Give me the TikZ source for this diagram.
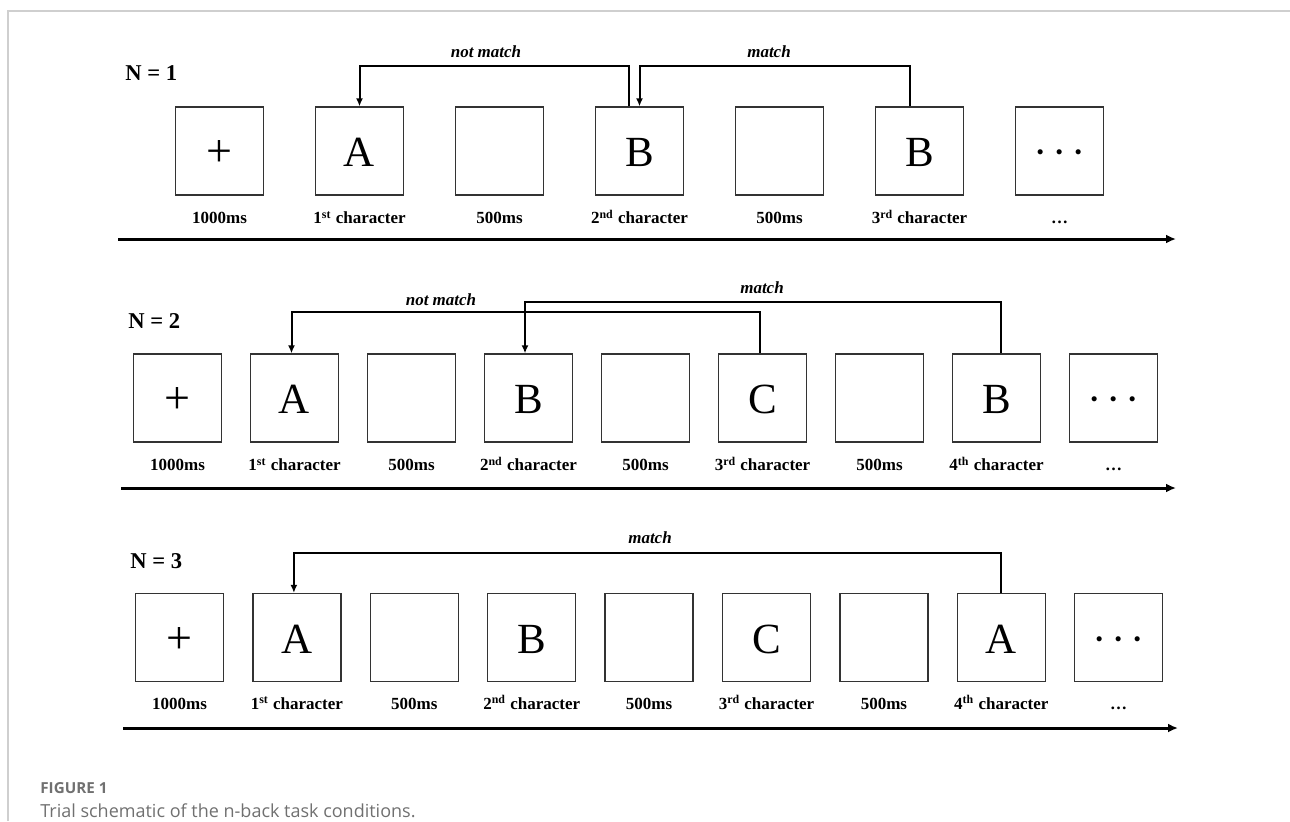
\documentclass[tikz,border=0pt]{standalone}
\usepackage{fontspec}
\setmainfont{Liberation Serif}
\newfontfamily\capfont{Open Sans}
\usetikzlibrary{arrows.meta}

\definecolor{framegray}{HTML}{CFCFCF}
\definecolor{capgray}{HTML}{707070}
\newcommand{\stimdots}{·\kern2.25pt·\kern2.25pt·}
\newcommand{\fixcross}{{\fontsize{23}{23}\selectfont +}}

\tikzset{
  stim/.style={draw=black!80, line width=0.65pt, minimum width=44pt, minimum height=44pt,
               inner sep=0pt, text height=15.5pt, text depth=0pt,
               font=\fontsize{21.5}{21.5}\selectfont},
  dur/.style={anchor=base, inner sep=0pt, font=\fontsize{8.5}{10}\selectfont\bfseries},
  cond/.style={anchor=base west, inner sep=0pt, font=\fontsize{11.3}{13}\selectfont\bfseries},
  fb/.style={anchor=base, inner sep=0pt, font=\fontsize{8.5}{10}\selectfont\bfseries\itshape},
  link/.style={line width=1pt, -{Latex[length=4pt,width=3.5pt]}},
  timeline/.style={line width=1.5pt, -{Latex[length=5pt,width=4.5pt]}}
}

\begin{document}
\begin{tikzpicture}[x=0.5pt, y=-0.5pt]
  \useasboundingbox (0,0) rectangle (1290,821);
  \draw[framegray, line width=1pt] (8,821) -- (8,11) -- (1290,11);

  % N = 1
  \node[cond] (n1) at (125,80) {N = 1};
  \foreach \i/\sym/\dur in {1/\fixcross/1000ms, 2/A/{1\textsuperscript{st} character}, 3//500ms,
      4/B/{2\textsuperscript{nd} character}, 5//500ms, 6/B/{3\textsuperscript{rd} character},
      7/\stimdots/\ldots}
  {
    \node[stim] (r1b\i) at ({219.5+140*(\i-1)},151) {\sym};
    \node[dur] (r1l\i) at ([yshift=-14pt]r1b\i.south) {\dur};
  }
  \node[fb] (r1nm) at (486,57) {not match};
  \node[fb] (r1m) at (769,57) {match};
  \draw[link] ([xshift=-5.5pt]r1b4.north) -- ++(0,-40) -| (r1b2.north);
  \draw[link] ([xshift=-4.75pt]r1b6.north) -- ++(0,-40) -| (r1b4.north);
  \coordinate (t1a) at (118,239);
  \coordinate (t1b) at (1176,239);
  \draw[timeline] (t1a) -- (t1b);

  % N = 2
  \node[cond] (n2) at (128,328) {N = 2};
  \foreach \i/\sym/\dur in {1/\fixcross/1000ms, 2/A/{1\textsuperscript{st} character}, 3//500ms,
      4/B/{2\textsuperscript{nd} character}, 5//500ms, 6/C/{3\textsuperscript{rd} character},
      7//500ms, 8/B/{4\textsuperscript{th} character}, 9/\stimdots/\ldots}
  {
    \node[stim] (r2b\i) at ({177.5+117*(\i-1)},398) {\sym};
    \node[dur] (r2l\i) at ([yshift=-14pt]r2b\i.south) {\dur};
  }
  \node[fb] (r2nm) at (441,305) {not match};
  \node[fb] (r2m) at (762,293) {match};
  \draw[link] ([xshift=-1.5pt]r2b6.north) -- ++(0,-41) -| ([xshift=-1.5pt]r2b2.north);
  \draw[link] ([xshift=2.25pt]r2b8.north) -- ++(0,-51) -| ([xshift=-1.75pt]r2b4.north);
  \coordinate (t2a) at (121,488);
  \coordinate (t2b) at (1176,488);
  \draw[timeline] (t2a) -- (t2b);

  % N = 3
  \node[cond] (n3) at (130,568) {N = 3};
  \foreach \i/\sym/\dur in {1/\fixcross/1000ms, 2/A/{1\textsuperscript{st} character}, 3//500ms,
      4/B/{2\textsuperscript{nd} character}, 5//500ms, 6/C/{3\textsuperscript{rd} character},
      7//500ms, 8/A/{4\textsuperscript{th} character}, 9/\stimdots/\ldots}
  {
    \node[stim] (r3b\i) at ({179.5+117.4*(\i-1)},637.5) {\sym};
    \node[dur] (r3l\i) at ([yshift=-13.5pt]r3b\i.south) {\dur};
  }
  \node[fb] (r3m) at (650,543) {match};
  \draw[link] (r3b8.north) -- ++(0,-40) -| ([xshift=-1.5pt]r3b2.north);
  \coordinate (t3a) at (123,728);
  \coordinate (t3b) at (1178,728);
  \draw[timeline] (t3a) -- (t3b);

  % caption
  \node[anchor=base west, inner sep=0pt, text=capgray, font=\capfont\fontsize{7.6}{9}\selectfont\bfseries]
    (fig) at (40,793) {FIGURE 1};
  \node[anchor=base west, inner sep=0pt, text=capgray, font=\capfont\fontsize{9}{11}\selectfont]
    (cap) at (40,817) {Trial schematic of the n-back task conditions.};
\end{tikzpicture}
\end{document}
